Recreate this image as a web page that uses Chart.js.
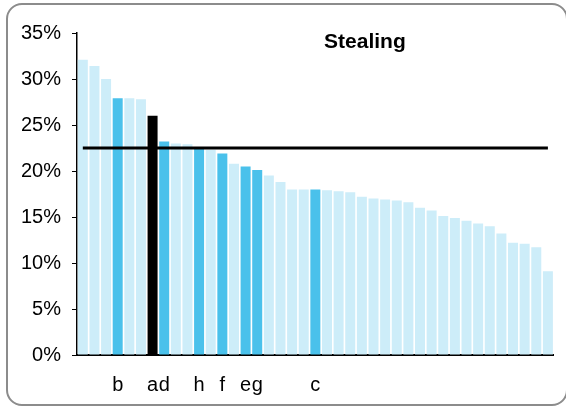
<!DOCTYPE html>
<html>
<head>
<meta charset="utf-8">
<script src="https://cdn.jsdelivr.net/npm/chart.js@4/dist/chart.umd.min.js"></script>
<style>
  html, body { margin: 0; padding: 0; background: #fff; }
  #wrap { position: relative; width: 566px; height: 409px; overflow: hidden; }
  #frame {
    position: absolute; left: 6px; top: 3px; width: 562px; height: 403px;
    border: 2px solid #8c8c8c; border-radius: 16px; box-sizing: border-box;
  }
  #stealChart { position: absolute; left: 0; top: 0; }
</style>
</head>
<body>
<div id="wrap">
  <div id="frame"></div>
  <canvas id="stealChart" width="566" height="409"></canvas>
</div>
<script>
// one label per bar, highlighted bars carry a letter
const barLabels = ["", "", "", "b", "", "", "a", "d", "", "", "h", "", "f", "", "e", "g",
    "", "", "", "", "c", "", "", "", "", "", "", "", "", "", "", "", "", "", "", "", "", "", "", "", ""];

// percent values
const stealingPct = [32.1, 31.4, 30.0, 27.9, 27.9, 27.8, 26.0, 23.2, 23.0, 22.9, 22.5, 22.3, 21.9, 20.8,
    20.5, 20.1, 19.5, 18.8, 18.0, 18.0, 18.0, 17.9, 17.8, 17.7, 17.2, 17.0, 16.9, 16.8, 16.6, 16.0,
    15.7, 15.1, 14.9, 14.6, 14.3, 14.0, 13.2, 12.2, 12.1, 11.7, 9.1];

const averagePct = 22.5;
const yTicks = [0, 5, 10, 15, 20, 25, 30, 35];

const lightBlue = "#cdedf9";
const darkBlue = "#4ac1eb";

const barColors = barLabels.map(function (l) {
    if (l === "a") return "#000000";
    if (l !== "") return darkBlue;
    return lightBlue;
});

// title placed over the right part of the plot like the original
const titlePlugin = {
    id: "stealTitle",
    afterDraw: function (chart) {
        const a = chart.chartArea;
        const c = chart.ctx;
        c.save();
        c.font = "bold 21px 'Liberation Sans', Arial, sans-serif";
        c.fillStyle = "#000";
        c.textAlign = "center";
        c.textBaseline = "middle";
        c.fillText("Stealing", a.left + (a.right - a.left) * 0.604, a.top + 9);
        c.restore();
    }
};

const ctx = document.getElementById("stealChart");

new Chart(ctx, {
    data: {
        labels: barLabels,
        datasets: [{
            type: "line",
            data: barLabels.map(function () { return averagePct; }),
            borderColor: "#000",
            borderWidth: 3,
            pointRadius: 0,
            fill: false,
            order: 0
        }, {
            type: "bar",
            data: stealingPct,
            backgroundColor: barColors,
            borderWidth: 0,
            barPercentage: 0.86,
            categoryPercentage: 1.0,
            order: 1
        }]
    },
    options: {
        responsive: false,
        animation: false,
        layout: { padding: { left: 0, right: 8, top: 33, bottom: 0 } },
        plugins: {
            legend: { display: false },
            tooltip: { enabled: false }
        },
        scales: {
            x: {
                afterFit: function (axis) { axis.height = 54; },
                grid: { display: false, drawTicks: false },
                border: { display: true, color: "#000", width: 2 },
                ticks: {
                    autoSkip: false,
                    maxRotation: 0,
                    minRotation: 0,
                    padding: 18,
                    color: "#000",
                    font: { family: "'Liberation Sans', Arial, sans-serif", size: 20 }
                }
            },
            y: {
                min: 0,
                max: 35,
                afterFit: function (axis) { axis.width = 77; },
                afterBuildTicks: function (axis) {
                    axis.ticks = yTicks.map(function (v) { return { value: v }; });
                },
                grid: { drawOnChartArea: false, drawTicks: true, tickLength: 5, color: "#000" },
                border: { display: true, color: "#000", width: 1.5 },
                ticks: {
                    padding: 11,
                    color: "#000",
                    font: { family: "'Liberation Sans', Arial, sans-serif", size: 20 },
                    callback: function (v) { return v + "%"; }
                }
            }
        }
    },
    plugins: [titlePlugin]
});
</script>
</body>
</html>
